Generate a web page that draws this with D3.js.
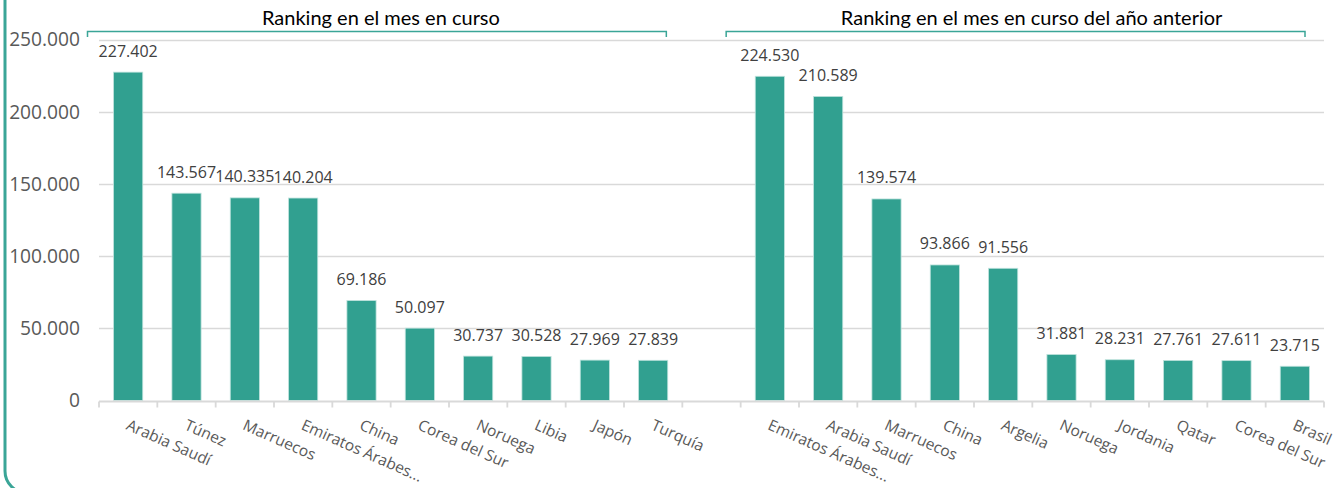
<!DOCTYPE html>
<html>
<head>
<meta charset="utf-8">
<script src="https://cdn.jsdelivr.net/npm/d3@7"></script>
<style>
	html, body { margin: 0; padding: 0; background: #ffffff; }
	svg { display: block; }
</style>
</head>
<body>
<div id="chart"></div>
<script>
/**
 * Chart data.
 */
var leftTitle = "Ranking en el mes en curso";
var rightTitle = "Ranking en el mes en curso del año anterior";
var leftCountries = ["Arabia Saudí", "Túnez", "Marruecos", "Emiratos Árabes...", "China", "Corea del Sur", "Noruega", "Libia", "Japón", "Turquía"];
var leftValues = [227402, 143567, 140335, 140204, 69186, 50097, 30737, 30528, 27969, 27839];
var rightCountries = ["Emiratos Árabes...", "Arabia Saudí", "Marruecos", "China", "Argelia", "Noruega", "Jordania", "Qatar", "Corea del Sur", "Brasil"];
var rightValues = [224530, 210589, 139574, 93866, 91556, 31881, 28231, 27761, 27611, 23715];
var yTicks = [0, 50000, 100000, 150000, 200000, 250000];

{
	var width = 1342,
		height = 488,
		margin = { top: 39.5, right: 18, bottom: 87.5, left: 99 };

	var teal = "#31a090",
		border = "#3aa597",
		grid = "#d9d9d9";

	var es = d3.formatLocale({ decimal: ",", thousands: ".", grouping: [3], currency: ["", " €"] });
	var fmt = es.format(",d");

	// One row per slot; slot 10 stays empty between the two rankings.
	var rows = [];
	leftCountries.forEach(function (c, i) {
		rows.push({ slot: i, name: c, value: leftValues[i] });
	});
	rows.push({ slot: 10, name: "", value: null });
	rightCountries.forEach(function (c, i) {
		rows.push({ slot: 11 + i, name: c, value: rightValues[i] });
	});

	var x = d3.scaleBand()
		.domain(rows.map(function (d) { return d.slot; }))
		.range([margin.left, width - margin.right])
		.paddingInner(0.5)
		.paddingOuter(0.25);

	var y = d3.scaleLinear()
		.domain([0, 250000])
		.range([height - margin.bottom, margin.top]);

	var step = x.step();
	var x0 = margin.left;

	var svg = d3.select("#chart").append("svg")
		.attr("width", width)
		.attr("height", height);

	// Rounded frame, only left side and bottom corner visible.
	svg.append("rect")
		.attr("x", 5)
		.attr("y", -40)
		.attr("width", width + 40)
		.attr("height", 533)
		.attr("rx", 22)
		.attr("fill", "none")
		.attr("stroke", border)
		.attr("stroke-width", 3);

	// Gridlines.
	svg.append("g")
		.selectAll("line")
		.data(yTicks.filter(function (t) { return t > 0; }))
		.join("line")
		.attr("x1", x0)
		.attr("x2", width - margin.right)
		.attr("y1", function (d) { return Math.round(y(d)) + 0.5; })
		.attr("y2", function (d) { return Math.round(y(d)) + 0.5; })
		.attr("stroke", grid)
		.attr("stroke-width", 1.5);

	// Y axis labels.
	svg.append("g")
		.selectAll("text")
		.data(yTicks)
		.join("text")
		.attr("x", 80)
		.attr("y", function (d) { return y(d); })
		.attr("dy", "0.36em")
		.attr("text-anchor", "end")
		.attr("font-family", "Open Sans")
		.attr("font-size", 19.2)
		.attr("fill", "#595959")
		.text(function (d) { return fmt(d); });

	// Bars.
	var bars = rows.filter(function (d) { return d.value != null; });

	svg.append("g")
		.selectAll("rect")
		.data(bars)
		.join("rect")
		.attr("x", function (d) { return x(d.slot); })
		.attr("y", function (d) { return y(d.value); })
		.attr("width", x.bandwidth())
		.attr("height", function (d) { return y(0) - y(d.value); })
		.attr("fill", teal)
		.attr("stroke", "#bfe3dd")
		.attr("stroke-width", 0.8);

	// Value labels.
	svg.append("g")
		.selectAll("text")
		.data(bars)
		.join("text")
		.attr("x", function (d) { return x(d.slot) + x.bandwidth() / 2; })
		.attr("y", function (d) { return y(d.value) - 15.5; })
		.attr("text-anchor", "middle")
		.attr("font-family", "Open Sans")
		.attr("font-size", 16)
		.attr("fill", "#404040")
		.text(function (d) { return fmt(d.value); });

	// Category axis: line and ticks at slot boundaries.
	var axisY = Math.round(y(0)) + 0.5;
	var axis = svg.append("g");
	axis.append("line")
		.attr("x1", x0)
		.attr("x2", width - margin.right)
		.attr("y1", axisY)
		.attr("y2", axisY)
		.attr("stroke", grid)
		.attr("stroke-width", 1.8);

	axis.selectAll("line.tick")
		.data(d3.range(rows.length + 1))
		.join("line")
		.attr("class", "tick")
		.attr("x1", function (i) { return x0 + i * step; })
		.attr("x2", function (i) { return x0 + i * step; })
		.attr("y1", axisY)
		.attr("y2", axisY + 6)
		.attr("stroke", grid)
		.attr("stroke-width", 1.8);

	// Rotated category labels.
	axis.selectAll("text")
		.data(rows.filter(function (d) { return d.name; }))
		.join("text")
		.attr("transform", function (d) {
			var cx = x(d.slot) + x.bandwidth() / 2 - 3;
			return "translate(" + cx + "," + 429 + ") rotate(24)";
		})
		.attr("text-anchor", "start")
		.attr("font-family", "Open Sans")
		.attr("font-size", 15.5)
		.attr("fill", "#595959")
		.text(function (d) { return d.name; });

	// Group brackets with titles (offsets).
	var groups = [
		{ title: leftTitle, first: 0, last: 9, a: -11.5, b: -16, t: 4 },
		{ title: rightTitle, first: 11, last: 20, a: -14.5, b: -19, t: 16 }
	];

	function ends(d) {
		return [x0 + d.first * step + d.a, x0 + (d.last + 1) * step + d.b];
	}

	var g = svg.append("g").selectAll("g")
		.data(groups)
		.join("g");

	g.append("path")
		.attr("d", function (d) {
			var e = ends(d);
			return "M" + e[0] + ",37V31.5H" + e[1] + "V37";
		})
		.attr("fill", "none")
		.attr("stroke", border)
		.attr("stroke-width", 1.5);

	g.append("text")
		.attr("x", function (d) {
			var e = ends(d);
			return (e[0] + e[1]) / 2 + d.t;
		})
		.attr("y", 25)
		.attr("text-anchor", "middle")
		.attr("font-family", "Lato")
		.attr("font-size", 20)
		.attr("fill", "#000000")
		.text(function (d) { return d.title; });
}
</script>
</body>
</html>
